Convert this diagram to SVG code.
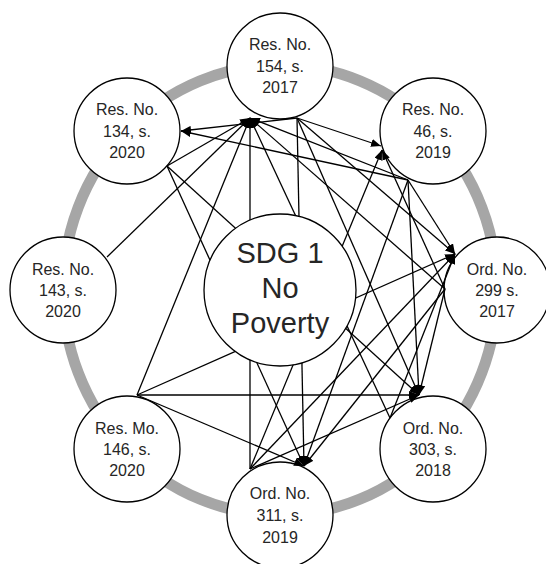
<svg xmlns="http://www.w3.org/2000/svg" width="546" height="564" viewBox="0 0 546 564">
<defs>
<style>
.node circle{fill:#fff;stroke:#000;stroke-width:1.3}
.node text{font-family:"Liberation Sans",Arial,sans-serif;font-size:16px;fill:#262626;text-anchor:middle}
#sdg text{font-size:29px}
#connectors line{stroke:#000;stroke-width:1.3;marker-end:url(#arr)}
</style>
<marker id="arr" viewBox="0 0 10 8" refX="10" refY="4" markerWidth="10" markerHeight="8" markerUnits="userSpaceOnUse" orient="auto"><path d="M0,0L10,4L0,8z" fill="#000"/></marker>
</defs>
<rect width="546" height="564" fill="#fff"/>
<ellipse cx="280" cy="290" rx="217" ry="225" fill="none" stroke="#a6a6a6" stroke-width="11"/>

<g id="res154" class="node"><circle cx="280" cy="66" r="53"/><text x="280" y="50">Res. No.</text><text x="280" y="72">154, s.</text><text x="280" y="93">2017</text></g>
<g id="res46" class="node"><circle cx="433" cy="131" r="53"/><text x="433" y="115">Res. No.</text><text x="433" y="137">46, s.</text><text x="433" y="158">2019</text></g>
<g id="ord299" class="node"><circle cx="497" cy="290" r="53"/><text x="497" y="275">Ord. No.</text><text x="497" y="296">299  s.</text><text x="497" y="317">2017</text></g>
<g id="ord303" class="node"><circle cx="433" cy="449" r="53"/><text x="433" y="434">Ord. No.</text><text x="433" y="455">303, s.</text><text x="433" y="476">2018</text></g>
<g id="ord311" class="node"><circle cx="280" cy="515" r="53"/><text x="280" y="499">Ord. No.</text><text x="280" y="521">311, s.</text><text x="280" y="543">2019</text></g>
<g id="res146" class="node"><circle cx="127" cy="449" r="53"/><text x="127" y="434">Res. Mo.</text><text x="127" y="455">146, s.</text><text x="127" y="476">2020</text></g>
<g id="res143" class="node"><circle cx="63" cy="290" r="53"/><text x="63" y="275">Res. No.</text><text x="63" y="296">143, s.</text><text x="63" y="317">2020</text></g>
<g id="res134" class="node"><circle cx="127" cy="131" r="53"/><text x="127" y="115">Res. No.</text><text x="127" y="137">134, s.</text><text x="127" y="158">2020</text></g>

<g id="connectors">
<line x1="107" y1="257" x2="250" y2="118"/>
<line x1="137" y1="395" x2="250" y2="118"/>
<line x1="137" y1="395" x2="455" y2="254"/>
<line x1="137" y1="395" x2="419" y2="395"/>
<line x1="137" y1="395" x2="304" y2="466"/>
<line x1="167" y1="166" x2="250" y2="118"/>
<line x1="167" y1="166" x2="419" y2="395"/>
<line x1="167" y1="166" x2="304" y2="466"/>
<line x1="297" y1="118" x2="181" y2="131"/>
<line x1="297" y1="118" x2="381" y2="146"/>
<line x1="297" y1="118" x2="455" y2="254"/>
<line x1="297" y1="118" x2="419" y2="395"/>
<line x1="297" y1="118" x2="304" y2="466"/>
<line x1="408" y1="180" x2="181" y2="131"/>
<line x1="408" y1="180" x2="250" y2="118"/>
<line x1="408" y1="180" x2="455" y2="254"/>
<line x1="408" y1="180" x2="419" y2="395"/>
<line x1="408" y1="180" x2="304" y2="466"/>
<line x1="445" y1="289" x2="250" y2="118"/>
<line x1="445" y1="289" x2="382" y2="150"/>
<line x1="445" y1="289" x2="419" y2="395"/>
<line x1="445" y1="289" x2="304" y2="466"/>
<line x1="390" y1="418" x2="250" y2="118"/>
<line x1="390" y1="418" x2="455" y2="254"/>
<line x1="250" y1="469" x2="250" y2="118"/>
<line x1="250" y1="469" x2="382" y2="150"/>
<line x1="250" y1="469" x2="455" y2="254"/>
<line x1="250" y1="469" x2="419" y2="395"/>
</g>

<g id="sdg" class="node"><circle cx="280" cy="290" r="76"/><text x="280" y="263">SDG 1</text><text x="280" y="298">No</text><text x="280" y="333">Poverty</text></g>
</svg>
